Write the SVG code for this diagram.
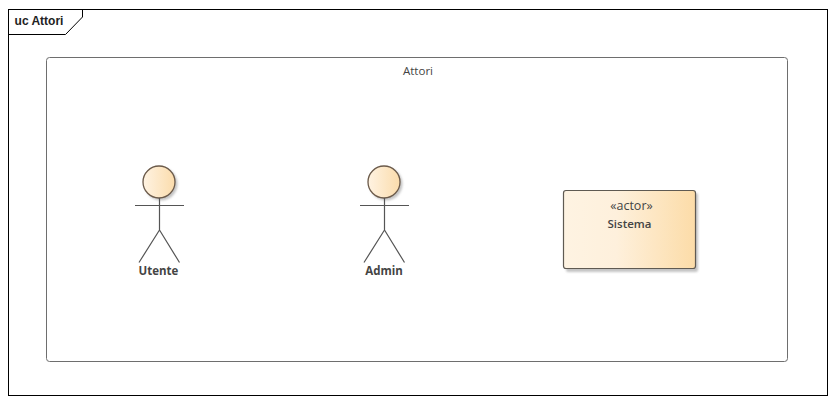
<svg xmlns="http://www.w3.org/2000/svg" width="837" height="403" viewBox="0 0 837 403">
<style>
text{font-family:"Open Sans","Noto Sans","DejaVu Sans",sans-serif;fill:#444;text-anchor:middle;font-size:11.5px}
.b{font-weight:700}
.fig{fill:none;stroke:#555;stroke-width:1.2}
.head{fill:url(#hg);stroke:#6b5a4a;stroke-width:1.3}
.shadow{fill:#c4c4c4}
</style>
<defs>
<linearGradient id="hg" x1="0" x2="1" y1="0" y2="0"><stop offset="0" stop-color="#fff3e2"/><stop offset="1" stop-color="#fbdcac"/></linearGradient>
<linearGradient id="bg" x1="0" x2="1" y1="0" y2="0"><stop offset="0" stop-color="#fef3e2"/><stop offset="0.4" stop-color="#fef0dc"/><stop offset="1" stop-color="#fcdca8"/></linearGradient>
<filter id="blur" x="-20%" y="-20%" width="140%" height="140%"><feGaussianBlur stdDeviation="1"/></filter>
</defs>
<rect width="837" height="403" fill="#fff"/>
<g id="frame">
<rect x="8.5" y="9.5" width="819" height="386" fill="none" stroke="#000" stroke-width="1"/>
<path d="M8.500 34.500H65.500L82.500 17V9.500" fill="none" stroke="#000" stroke-width="1"/>
<text x="39" y="25" class="b" style="fill:#222;font-size:12px;font-family:'Liberation Sans',Arial,sans-serif">uc Attori</text>
</g>
<g id="boundary">
<rect x="46.500" y="57.500" width="741" height="304" rx="3" fill="#fff" stroke="#6e6e6e" stroke-width="1"/>
<text x="418" y="75">Attori</text>
</g>
<g id="utente">
<circle class="shadow" cx="161" cy="184" r="16.500" filter="url(#blur)"/>
<circle class="head" cx="159" cy="182" r="16"/>
<path class="fig" d="M135 205.500H184M159.500 198V230M159.500 230L139 262.500M159.500 230L179.500 262.500"/>
<text x="158.500" y="275" class="b">Utente</text>
</g>
<g id="admin">
<circle class="shadow" cx="386" cy="184" r="16.500" filter="url(#blur)"/>
<circle class="head" cx="384" cy="182" r="16"/>
<path class="fig" d="M360 205.500H409M384.500 198V230M384.500 230L364 262.500M384.500 230L404.500 262.500"/>
<text x="384" y="275" class="b">Admin</text>
</g>
<g id="sistema">
<rect class="shadow" x="566" y="193" width="132" height="79" rx="2" filter="url(#blur)"/>
<rect x="563.500" y="190.500" width="132" height="78" rx="2.500" fill="url(#bg)" stroke="#5f5a52" stroke-width="1.200"/>
<text x="631.500" y="210" style="font-size:12.500px">«actor»</text>
<text x="629.500" y="228" class="b" style="font-weight:600">Sistema</text>
</g>
<g id="connectors"/>
</svg>
